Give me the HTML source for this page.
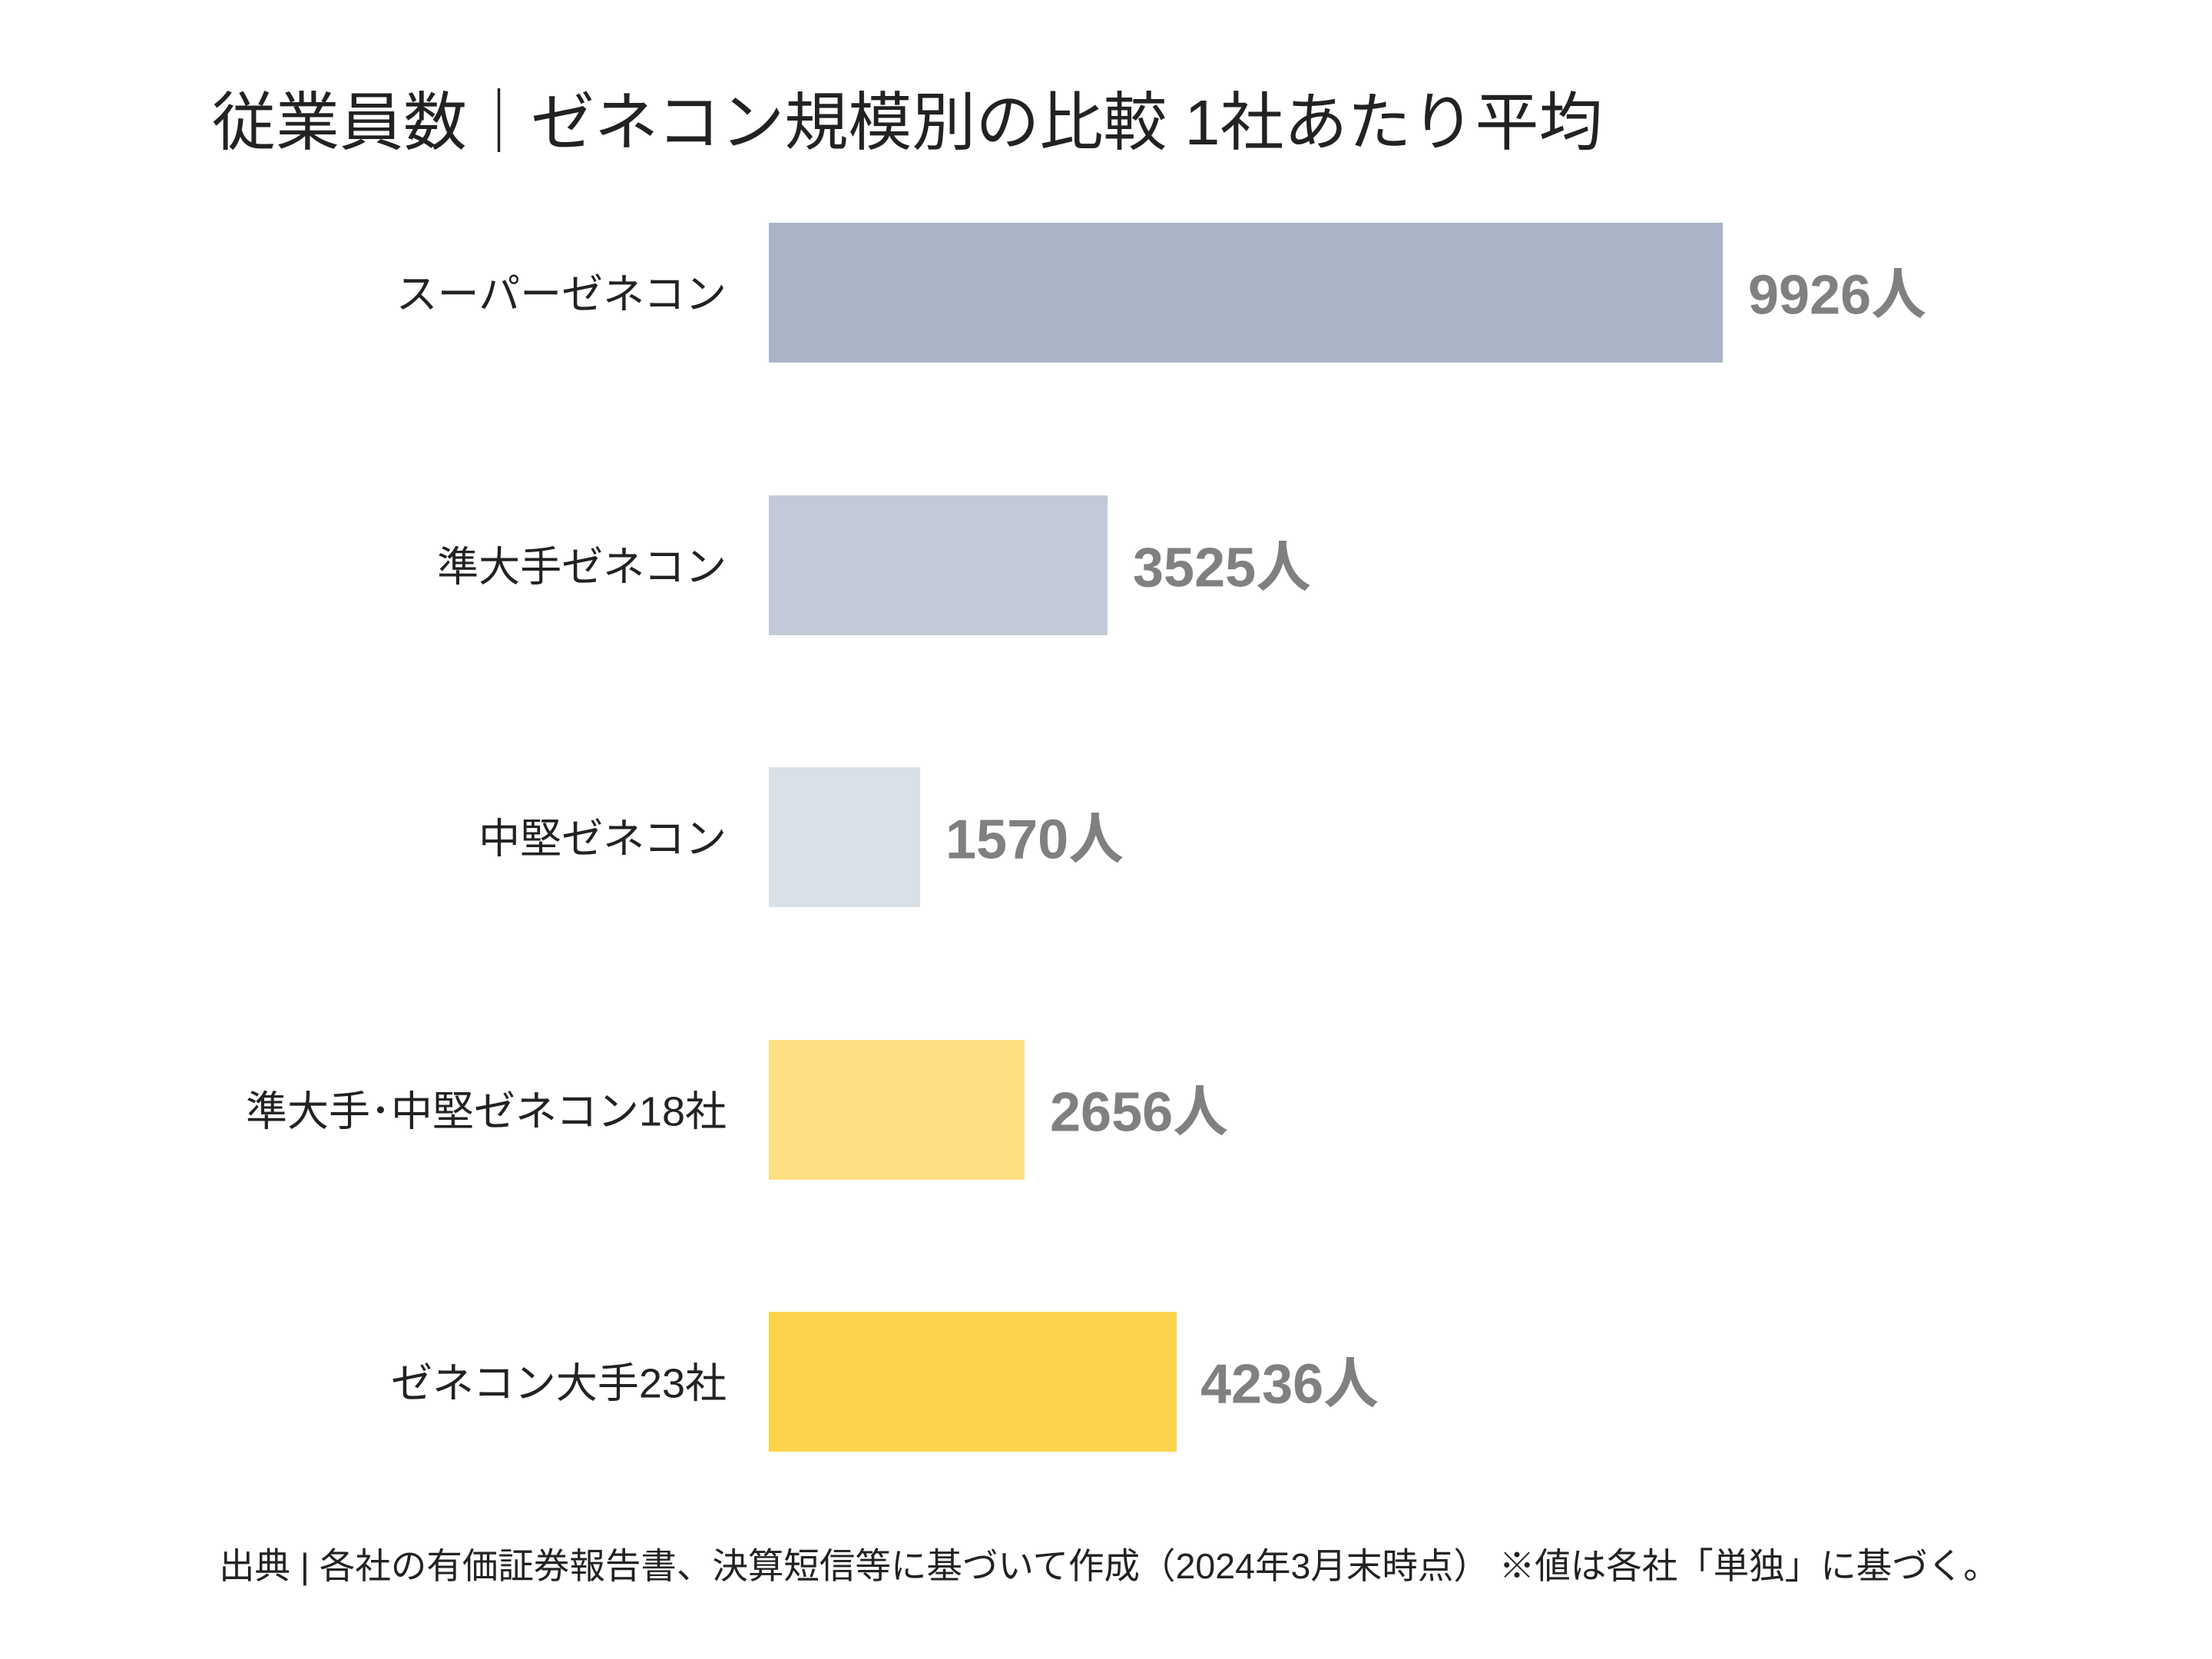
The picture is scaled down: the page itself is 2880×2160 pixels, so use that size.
<!DOCTYPE html>
<html><head><meta charset="utf-8"><style>
body{margin:0;width:2880px;height:2160px;background:#fff;position:relative;overflow:hidden;font-family:"Liberation Sans","Noto Sans CJK JP",sans-serif;}
.t{position:absolute;white-space:nowrap;}
.bar{position:absolute;left:1001px;height:182px;}
.lab{position:absolute;right:1934px;font-size:54px;color:#222;transform:translateY(-50%);white-space:nowrap;}
.val{position:absolute;font-size:72px;font-weight:bold;color:#808080;transform:translateY(-50%);white-space:nowrap;}
</style></head><body>
<div class="t" style="left:276px;top:118px;font-size:83px;color:#222;line-height:1;">従業員数｜ゼネコン規模別の比較 1社あたり平均</div>

<div class="bar" style="top:290px;width:1242px;background:#a9b5c7"></div>
<div class="lab" style="top:378px">スーパーゼネコン</div>
<div class="val" style="top:377px;left:2276px">9926人</div>

<div class="bar" style="top:645px;width:441px;background:#c1cad6"></div>
<div class="lab" style="top:733px">準大手ゼネコン</div>
<div class="val" style="top:732px;left:1475px">3525人</div>

<div class="bar" style="top:999px;width:197px;background:#dae0e8"></div>
<div class="lab" style="top:1087px">中堅ゼネコン</div>
<div class="val" style="top:1086px;left:1231px">1570人</div>

<div class="bar" style="top:1354px;width:333px;background:#fedf82"></div>
<div class="lab" style="top:1442px">準大手･中堅ゼネコン18社</div>
<div class="val" style="top:1441px;left:1367px">2656人</div>

<div class="bar" style="top:1708px;width:531px;background:#fcd34a"></div>
<div class="lab" style="top:1796px">ゼネコン大手23社</div>
<div class="val" style="top:1795px;left:1563px">4236人</div>

<div class="t" style="left:285px;top:2016px;font-size:46.5px;color:#222;line-height:1;">出典 | 各社の有価証券報告書、決算短信等に基づいて作成（2024年3月末時点） ※値は各社「単独」に基づく。</div>
</body></html>
